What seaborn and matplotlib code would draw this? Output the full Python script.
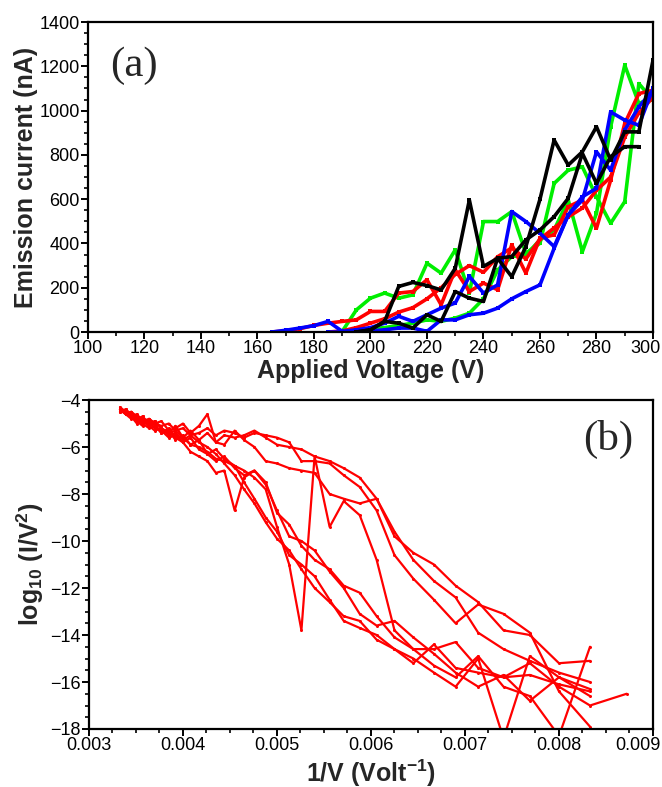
import numpy as np
import pandas as pd
import matplotlib
matplotlib.use("Agg")
import matplotlib.pyplot as plt
import matplotlib.transforms as mtrans
import seaborn as sns

# ---------------- data: panel (a) ----------------
voltage = [165, 170, 175, 180, 185, 190, 195, 200, 205, 210, 215, 220, 225, 230,
           235, 240, 245, 250, 255, 260, 265, 270, 275, 280, 285, 290, 295, 300]
nan = np.nan
red1 = [0, 5, 15, 30, 40, 48, 55, 93, 93, 176, 183, 236, 123, 281,
        183, 221, 191, 394, 266, 424, 439, 566, 596, 469, 686, 942, 1077, 1092]
red2 = [nan, nan, nan, nan, 0, 5, 20, 40, 60, 90, 110, 150, 200, 260,
        300, 270, 340, 380, 330, 420, 470, 520, 560, 640, 700, 880, 990, 1060]
green1 = [nan, nan, nan, nan, nan, 3, 100, 153, 176, 153, 168, 311, 266, 371,
          176, 499, 499, 544, 356, 401, 671, 731, 746, 611, 491, 589, 1122, 1047]
green2 = [nan, nan, nan, nan, 0, 0, 5, 15, 20, 30, 40, 55, 48, 63,
          85, 150, 280, 341, 348, 416, 461, 596, 363, 536, 927, 1205, 1032, 1060]
blue1 = [0, 8, 18, 29, 48, 3, 10, 20, 40, 71, 48, 78, 108, 131,
         251, 176, 213, 544, 499, 446, 386, 529, 611, 649, 994, 957, 934, 1100]
blue2 = [nan, nan, nan, nan, 0, 0, 3, 5, 10, 18, 18, 3, 55, 55,
         78, 85, 108, 150, 183, 213, 378, 529, 596, 814, 731, 912, 1017, 1092]
black1 = [nan, nan, nan, nan, nan, nan, 0, 10, 48, 206, 224, 210, 190, 288,
          596, 296, 333, 250, 386, 600, 867, 754, 814, 927, 777, 904, 904, 1227]
black2 = [nan, nan, nan, nan, nan, nan, 0, 10, 48, 40, 18, 78, 48, 183,
          153, 138, 333, 341, 416, 461, 521, 604, 807, 671, 792, 837, 837, nan]

# ---------------- data: panel (b) ----------------
inv_v = [0.00333, 0.00339, 0.00345, 0.00351, 0.00357, 0.00364, 0.0037, 0.00377,
         0.00385, 0.00392, 0.004, 0.00408, 0.00417, 0.00426, 0.00435, 0.00444,
         0.00455, 0.00465, 0.00476, 0.00488, 0.005, 0.00513, 0.00526, 0.0054,
         0.00556, 0.00571, 0.00588, 0.00606, 0.00625, 0.00645, 0.00667, 0.0069,
         0.00714, 0.00741, 0.00769, 0.008, 0.00833]
inv_v_ext = inv_v + [0.00872]
fn1 = [-4.4, -4.5, -4.7, -4.6, -4.9, -4.8, -5.0, -5.1, -5.0, -5.3, -5.2, -5.5, -5.4, -5.2,
       -5.5, -5.3, -5.4, -5.6, -5.4, -5.5, -5.6, -5.8, -6.6, -6.6, -6.7, -7.2, -7.7, -8.7,
       -10.6, -11.6, -12.5, -13.5, -12.7, -13.1, -13.9, -16.4, -17.9]
fn2 = [-4.4, -4.6, -4.5, -4.8, -4.7, -5.0, -4.9, -5.2, -5.4, -5.1, -5.6, -5.3, -5.7, -5.4,
       -5.8, -5.5, -5.6, -5.5, -5.3, -5.6, -5.9, -6.0, -6.1, -6.4, -6.6, -6.9, -7.3, -8.2,
       -9.6, -10.8, -11.7, -12.4, -13.9, -14.6, -15.1, -15.6, -16.0]
fn3 = [-4.5, -4.4, -4.7, -4.9, -4.7, -5.1, -5.0, -4.9, -5.3, -5.2, -5.0, -5.4, -5.1, -4.6,
       -5.8, -5.9, -5.3, -5.7, -6.0, -6.6, -6.7, -6.9, -7.0, -7.1, -8.0, -8.2, -8.4, -8.2,
       -9.8, -10.5, -11.0, -11.9, -12.6, -13.8, -14.0, -15.2, -15.1]
fn4 = [-4.3, -4.5, -4.6, -4.8, -5.0, -4.9, -5.2, -5.3, -5.6, -5.5, -5.8, -6.2, -6.4, -6.6,
       -7.1, -7.0, -8.7, -7.3, -7.0, -7.5, -8.8, -9.3, -10.2, -10.8, -11.2, -11.9, -12.2, -13.2,
       -14.1, -14.6, -14.6, -14.3, -15.4, -15.8, -15.7, -16.1, -16.4]
fn5 = [-4.4, -4.6, -4.8, -4.7, -5.0, -5.2, -5.1, -5.4, -5.3, -5.7, -5.5, -5.9, -6.0, -6.2,
       -6.5, -6.6, -6.8, -7.0, -7.3, -7.8, -9.4, -11.0, -13.8, -6.4, -9.4, -8.3, -8.9, -10.8,
       -13.8, -14.6, -15.3, -15.8, -14.9, -16.2, -16.6, -18.3, -14.5]
fn6 = [-4.5, -4.4, -4.6, -4.9, -5.1, -4.8, -5.0, -5.4, -5.2, -5.6, -5.8, -5.6, -6.1, -6.3,
       -6.1, -6.5, -6.8, -7.5, -8.2, -9.0, -9.6, -10.6, -11.0, -11.5, -12.5, -13.4, -13.7, -14.0,
       -14.6, -15.0, -15.6, -16.2, -15.0, -18.4, -14.9, -15.8, -16.6]
fn7 = [-4.4, -4.5, -4.7, -5.0, -4.8, -5.1, -5.3, -5.2, -5.5, -5.4, -5.7, -5.5, -5.8, -6.0,
       -6.3, -6.7, -7.2, -7.8, -8.4, -9.2, -9.9, -10.4, -11.2, -12.0, -12.6, -13.2, -13.4, -14.2,
       -14.6, -15.2, -14.4, -15.4, -15.6, -15.8, -15.2, -16.2, -17.0, -16.5]
fn8 = [-4.4, -4.6, -4.5, -4.7, -4.9, -5.1, -4.9, -5.2, -5.4, -5.3, -5.6, -5.9, -5.7, -6.3,
       -6.6, -6.4, -6.9, -7.2, -7.0, -7.6, -8.7, -9.8, -10.0, -10.4, -11.3, -12.0, -13.1, -13.6,
       -13.4, -14.1, -14.8, -15.6, -16.2, -15.7, -16.8, -15.8, -16.3]

top_xticks = [100, 120, 140, 160, 180, 200, 220, 240, 260, 280, 300]
top_yticks = [0, 200, 400, 600, 800, 1000, 1200, 1400]
bot_xticks = [0.003, 0.004, 0.005, 0.006, 0.007, 0.008, 0.009]
bot_xticklabels = ["0.003", "0.004", "0.005", "0.006", "0.007", "0.008", "0.009"]
bot_yticks = [-18, -16, -14, -12, -10, -8, -6, -4]

# ---------------- styling ----------------
sns.set_theme(style="ticks")
plt.rcParams["font.family"] = ["Liberation Sans", "DejaVu Sans"]
plt.rcParams["mathtext.fontset"] = "custom"
plt.rcParams["mathtext.rm"] = "Liberation Sans"
plt.rcParams["mathtext.bf"] = "Liberation Sans:bold"
plt.rcParams["axes.linewidth"] = 1.6
for ax_ in ("xtick", "ytick"):
    plt.rcParams[f"{ax_}.major.width"] = 1.4
    plt.rcParams[f"{ax_}.minor.width"] = 1.2
    plt.rcParams[f"{ax_}.major.size"] = 5
    plt.rcParams[f"{ax_}.minor.size"] = 3
    plt.rcParams[f"{ax_}.color"] = "black"
plt.rcParams["axes.edgecolor"] = "black"

fig = plt.figure(figsize=(6.62, 7.87), dpi=100)
ax1 = fig.add_axes([0.1329, 0.5781, 0.8535, 0.3939])
ax2 = fig.add_axes([0.1344, 0.0737, 0.852, 0.418])

# panel (a)
top_series = [
    (green1, "#00ee00"), (green2, "#00ee00"),
    (red1, "#ff0000"), (red2, "#ff0000"),
    (blue1, "#0000ff"), (blue2, "#0000ff"),
    (black1, "#000000"), (black2, "#000000"),
]
for ys, col in top_series:
    df = pd.DataFrame({"V": voltage, "I": ys}).dropna()
    sns.lineplot(data=df, x="V", y="I", ax=ax1, color=col, lw=2.6,
                 marker="s", markersize=2.5, markeredgewidth=0,
                 sort=False, estimator=None)

ax1.set_xlim(100, 300)
ax1.set_ylim(0, 1400)
ax1.set_xticks(top_xticks)
ax1.set_xticks(np.arange(110, 300, 10), minor=True)
ax1.set_yticks(top_yticks)
ax1.set_yticks(np.arange(50, 1400, 50), minor=True)
ax1.tick_params(axis="both", which="major", labelsize=13, pad=1)
ax1.set_xlabel("Applied Voltage (V)", fontsize=18, fontweight="bold", labelpad=1)
ax1.set_ylabel("Emission current (nA)", fontsize=18, fontweight="bold", labelpad=1)
ax1.text(0.04, 0.92, "(a)", transform=ax1.transAxes, fontsize=31,
         family="Liberation Serif", va="top", ha="left")
for s in ax1.spines.values():
    s.set_visible(True)

# panel (b)
bottom_series = [(inv_v, fn1), (inv_v, fn2), (inv_v, fn3), (inv_v, fn4),
                 (inv_v, fn5), (inv_v, fn6), (inv_v_ext, fn7), (inv_v, fn8)]
for xs, ys in bottom_series:
    df = pd.DataFrame({"x": xs, "y": ys})
    sns.lineplot(data=df, x="x", y="y", ax=ax2, color="#ff0000", lw=1.6,
                 marker="o", markersize=2.2, markeredgewidth=0,
                 sort=False, estimator=None)

ax2.set_xlim(0.003, 0.009)
ax2.set_ylim(-18, -4)
ax2.set_xticks(bot_xticks)
ax2.set_xticklabels(bot_xticklabels)
ax2.set_xticks(np.arange(0.00325, 0.009, 0.00025), minor=True)
ax2.set_yticks(bot_yticks)
ax2.set_yticks(np.arange(-17.5, -4, 0.5), minor=True)
ax2.tick_params(axis="both", which="major", labelsize=13, pad=1)
ax2.set_xlabel(r"1/V (Volt$^{\mathbf{-1}}$)", fontsize=18, fontweight="bold", labelpad=2)
ax2.set_ylabel(r"log$_{\mathbf{10}}$ (I/V$^{\mathbf{2}}$)", fontsize=18, fontweight="bold", labelpad=3)
ax2.text(0.965, 0.94, "(b)", transform=ax2.transAxes, fontsize=31,
         family="Liberation Serif", va="top", ha="right")
for s in ax2.spines.values():
    s.set_visible(True)

# keep the last x tick labels inside the figure, as in the reference
for ax_ in (ax1, ax2):
    lab = ax_.get_xticklabels()[-1]
    lab.set_horizontalalignment("right")
    lab.set_transform(lab.get_transform() + mtrans.ScaledTranslation(0.075, 0, fig.dpi_scale_trans))

fig.savefig("out.png", dpi=100)
